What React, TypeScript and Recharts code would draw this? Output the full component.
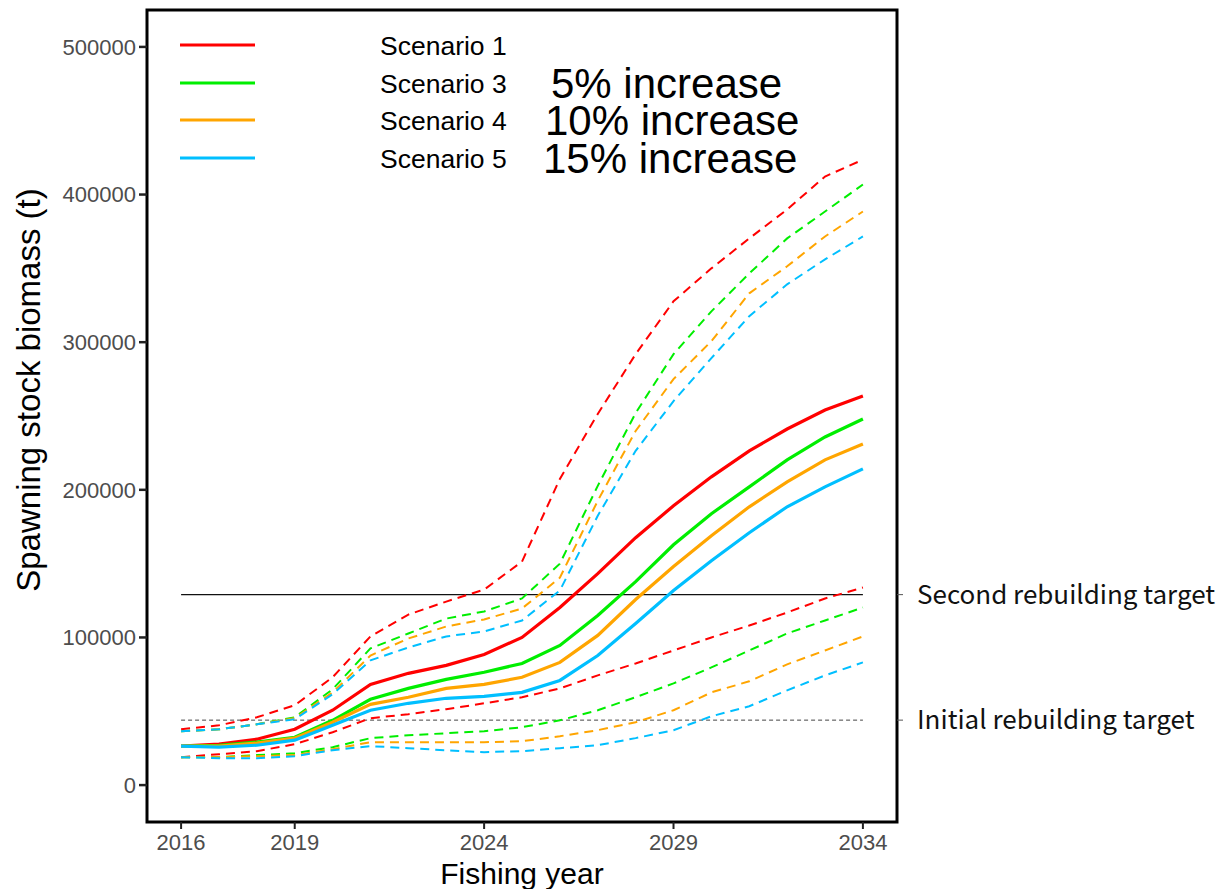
import { LineChart, Line, XAxis, YAxis, ReferenceLine, ReferenceArea } from 'recharts'

const years = [2016, 2017, 2018, 2019, 2020, 2021, 2022, 2023, 2024, 2025, 2026, 2027, 2028, 2029, 2030, 2031, 2032, 2033, 2034]

// Scenario 1
const sc1Mid = [26400, 27700, 31100, 37800, 50700, 68200, 75700, 81100, 88500, 100000, 120300, 143200, 167600, 189200, 208800, 226400, 241200, 254100, 263500]
const sc1Low = [18900, 20900, 23000, 27700, 35800, 45300, 48000, 51400, 55400, 59500, 65500, 74300, 82400, 91200, 100000, 108100, 116900, 126400, 133800]
const sc1High = [37800, 40500, 45900, 54100, 73000, 100700, 115500, 124300, 132400, 151400, 207400, 251400, 291900, 327700, 350000, 370300, 389900, 412200, 423600]

// Scenario 3 (5% increase)
const sc3Mid = [26400, 27000, 29100, 32400, 43900, 58100, 65500, 71600, 76400, 82400, 94600, 114900, 137800, 162800, 183800, 202000, 220300, 235800, 248000]
const sc3Low = [18900, 18900, 20300, 21600, 25700, 31800, 33800, 35100, 36500, 39200, 43900, 50700, 59500, 68900, 79700, 91200, 102700, 111500, 120300]
const sc3High = [36500, 37800, 41200, 45900, 64900, 92600, 102700, 112800, 117600, 126400, 150000, 202700, 252000, 291900, 320900, 346600, 370300, 388500, 406800]

// Scenario 4 (10% increase)
const sc4Mid = [26400, 26400, 28400, 31800, 42600, 54700, 59500, 65500, 68200, 73000, 83100, 101400, 125700, 148000, 168900, 188500, 205400, 220300, 231100]
const sc4Low = [18900, 18900, 19600, 20300, 24300, 29100, 29100, 29100, 29100, 29700, 33100, 37200, 42600, 50700, 62800, 70300, 81800, 91200, 100700]
const sc4High = [36500, 37800, 41200, 45300, 62800, 87800, 99300, 107400, 112200, 119600, 140500, 192600, 239900, 275000, 300700, 333100, 351400, 371600, 388500]

// Scenario 5 (15% increase)
const sc5Mid = [26400, 25700, 27000, 30400, 40500, 50700, 55400, 58800, 60100, 62800, 70900, 87800, 109500, 131800, 152000, 170900, 188500, 202000, 214200]
const sc5Low = [18900, 18200, 18200, 19600, 23600, 26400, 25000, 23600, 22300, 23000, 25000, 27000, 31800, 37200, 46600, 53400, 64200, 74300, 83100]
const sc5High = [36500, 37800, 41200, 44600, 61500, 84500, 93200, 100700, 104100, 111500, 131800, 182400, 226400, 260100, 289200, 317600, 339200, 356100, 371600]

const scenarioNames = ['Scenario 1', 'Scenario 3', 'Scenario 4', 'Scenario 5']
const scenarioColors = ['#ff0000', '#00ee00', '#ffa500', '#00bfff']
const increaseNotes = ['', '5% increase', '10% increase', '15% increase']

const xTicks = [2016, 2019, 2024, 2029, 2034]
const yTicks = [0, 100000, 200000, 300000, 400000, 500000]
const targetValues = [129000, 44000]
const targetLabels = ['Second rebuilding target', 'Initial rebuilding target']

const series = [
  { mid: sc1Mid, low: sc1Low, high: sc1High },
  { mid: sc3Mid, low: sc3Low, high: sc3High },
  { mid: sc4Mid, low: sc4Low, high: sc4High },
  { mid: sc5Mid, low: sc5Low, high: sc5High },
]

const data = years.map((year, i) => {
  const row: Record<string, number> = { year }
  series.forEach((s, k) => {
    row[`mid${k}`] = s.mid[i]
    row[`low${k}`] = s.low[i]
    row[`high${k}`] = s.high[i]
  })
  return row
})

const SANS = '"Liberation Sans", Arial, sans-serif'

function YTitle() {
  return (
    <text
      x={28}
      y={390}
      transform="rotate(-90 28 390)"
      textAnchor="middle"
      dominantBaseline="central"
      fontFamily={SANS}
      fontSize={33}
      fill="#000"
    >
      Spawning stock biomass (t)
    </text>
  )
}

function XTitle() {
  return (
    <text x={522} y={884} textAnchor="middle" fontFamily={SANS} fontSize={30} fill="#000">
      Fishing year
    </text>
  )
}

function ScenarioLegend() {
  return (
    <div style={{ position: 'absolute', left: 0, top: 0, width: 900, height: 200, pointerEvents: 'none' }}>
      {scenarioNames.map((name, i) => {
        const cy = 45 + i * 37.5
        return (
          <div key={name}>
            <svg style={{ position: 'absolute', left: 178, top: cy - 3 }} width={80} height={6}>
              <line x1={2} y1={3} x2={77} y2={3} stroke={scenarioColors[i]} strokeWidth={3} />
            </svg>
            <div
              style={{
                position: 'absolute',
                left: 380,
                top: cy - 14,
                height: 30,
                lineHeight: '30px',
                fontFamily: SANS,
                fontSize: 26.5,
                color: '#000',
                whiteSpace: 'nowrap',
              }}
            >
              {name}
            </div>
            {increaseNotes[i] && (
              <div
                style={{
                  position: 'absolute',
                  left: 543 + (i === 1 ? 8 : i === 2 ? 2 : 0),
                  top: cy - 16,
                  height: 34,
                  lineHeight: '34px',
                  fontFamily: SANS,
                  fontSize: 42,
                  color: '#000',
                  whiteSpace: 'nowrap',
                }}
              >
                {increaseNotes[i]}
              </div>
            )}
          </div>
        )
      })}
    </div>
  )
}

export default function App() {
  return (
    <div style={{ position: 'absolute', left: 0, top: 0, width: 1219, height: 889, background: '#fff' }}>
      <LineChart width={1219} height={889} data={data} margin={{ top: 10, right: 0, bottom: 0, left: 0 }}>
        <XAxis
          dataKey="year"
          type="number"
          domain={[2015.1, 2034.9]}
          ticks={xTicks}
          allowDataOverflow
          height={67}
          axisLine={false}
          tickLine={{ stroke: '#222', strokeWidth: 2 }}
          tickSize={7}
          tickMargin={5}
          tick={{ fill: '#4d4d4d', fontSize: 22, fontFamily: SANS }}
          label={<XTitle />}
        />
        <YAxis
          yAxisId="left"
          type="number"
          domain={[-25000, 525000]}
          ticks={yTicks}
          allowDataOverflow
          width={147}
          axisLine={false}
          tickLine={{ stroke: '#222', strokeWidth: 2.5 }}
          tickSize={8}
          tickMargin={3}
          tick={{ fill: '#4d4d4d', fontSize: 22, fontFamily: SANS }}
          label={<YTitle />}
        />
        <YAxis
          yAxisId="right"
          orientation="right"
          type="number"
          domain={[-25000, 525000]}
          ticks={targetValues}
          allowDataOverflow
          width={322}
          axisLine={false}
          tickLine={{ stroke: '#555', strokeWidth: 1 }}
          tickSize={6}
          tickMargin={14}
          tick={{ fill: '#111', fontSize: 26, fontFamily: '"Noto Sans CJK JP", "Noto Sans", sans-serif' }}
          tickFormatter={(v: number) => targetLabels[targetValues.indexOf(v)] ?? ''}
        />

        <ReferenceLine
          yAxisId="left"
          segment={[{ x: 2016, y: targetValues[0] }, { x: 2034, y: targetValues[0] }]}
          stroke="#111"
          strokeWidth={1.2}
        />
        <ReferenceLine
          yAxisId="left"
          segment={[{ x: 2016, y: targetValues[1] }, { x: 2034, y: targetValues[1] }]}
          stroke="#444"
          strokeWidth={1}
          strokeDasharray="4 3"
        />

        {series.map((_, k) => (
          <Line
            key={`high${k}`}
            yAxisId="left"
            dataKey={`high${k}`}
            stroke={scenarioColors[k]}
            strokeWidth={2}
            strokeDasharray="9 6"
            dot={false}
            activeDot={false}
            isAnimationActive={false}
          />
        ))}
        {series.map((_, k) => (
          <Line
            key={`low${k}`}
            yAxisId="left"
            dataKey={`low${k}`}
            stroke={scenarioColors[k]}
            strokeWidth={2}
            strokeDasharray="9 6"
            dot={false}
            activeDot={false}
            isAnimationActive={false}
          />
        ))}
        {series.map((_, k) => (
          <Line
            key={`mid${k}`}
            yAxisId="left"
            dataKey={`mid${k}`}
            stroke={scenarioColors[k]}
            strokeWidth={3.2}
            dot={false}
            activeDot={false}
            isAnimationActive={false}
          />
        ))}

        <ReferenceArea
          yAxisId="left"
          x1={2015.1}
          x2={2034.9}
          y1={-25000}
          y2={525000}
          fill="none"
          stroke="#000"
          strokeWidth={3}
          ifOverflow="visible"
        />
      </LineChart>
      <ScenarioLegend />
    </div>
  )
}
